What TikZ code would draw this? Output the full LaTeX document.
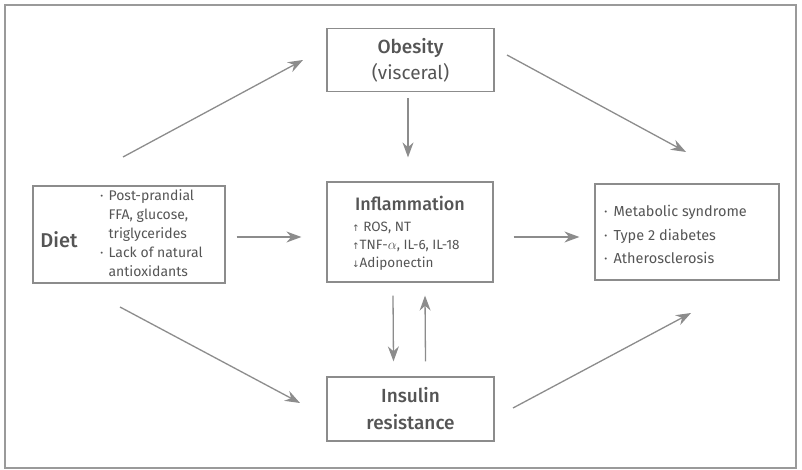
\documentclass[tikz,border=0pt]{standalone}
\usepackage{fontspec}
\setmainfont[BoldFont={Fira Sans Medium}]{Fira Sans}
\newfontfamily\arrowfont{DejaVu Sans}
\usepackage{xcolor}
\usetikzlibrary{arrows.meta,positioning}
\definecolor{framegray}{HTML}{9A9A9A}
\definecolor{boxgray}{HTML}{8C8C8C}
\definecolor{textgray}{HTML}{555555}
\tikzset{
	box/.style = {draw=boxgray,line width=1.2pt,inner sep=0pt,text=textgray},
	txt/.style = {inner sep=0pt,text=textgray,align=left},
	link/.style = {draw=boxgray,line width=1.3pt,-{Stealth[length=15pt,width=11pt]}}
}
\newcommand{\up}{{\arrowfont\fontsize{9}{9}\selectfont↑}}
\newcommand{\dn}{{\arrowfont\fontsize{9}{9}\selectfont↓}}

\begin{document}
\begin{tikzpicture}[x=1pt,y=-1pt]
		\useasboundingbox (0,0) rectangle (802,470);
		\draw[framegray,line width=1.6pt] (5,5) rectangle (796,468);
	
		% boxes
		\node[box,minimum width=167pt,minimum height=63pt,align=center,font=\bfseries\fontsize{19}{26}\selectfont] (obesity) at (410.5,60) {Obesity\\\mdseries(visceral)};
		\node[box,minimum width=166pt,minimum height=100pt] (inflam) at (410,232) {};
		\node[box,minimum width=192pt,minimum height=97pt] (diet) at (129,234.5) {};
		\node[box,minimum width=184pt,minimum height=96pt] (outcome) at (687,232) {};
		\node[box,minimum width=167pt,minimum height=64pt,align=center,font=\bfseries\fontsize{19}{27}\selectfont] (insulin) at (410.5,409) {Insulin\\resistance};
	
		% texts inside
		\node[txt,font=\bfseries\fontsize{20}{20}\selectfont] (dietlabel) at (59,240) {Diet};
		\node[txt,anchor=north west,font=\fontsize{14}{19}\selectfont] (dietlist) at (100,187) {%
			\begin{tabular}{@{}l@{\hspace{5pt}}l@{}}
				·&Post-prandial\\
				 &FFA, glucose,\\
				 &triglycerides\\
				·&Lack of natural\\
				 &antioxidants
			\end{tabular}};
		\node[txt,font=\bfseries\fontsize{18}{18}\selectfont] (inflamlabel) at (410,203) {Inflammation};
		\node[txt,anchor=north west,font=\fontsize{13.5}{18}\selectfont] (inflamlist) at (352,222) {%
			\up\ ROS, NT\\
			\up TNF-$\alpha$, IL-6, IL-18\\
			\dn Adiponectin};
		\node[txt,anchor=north west,font=\fontsize{14.5}{23.5}\selectfont] (outlist) at (604,200) {%
			\begin{tabular}{@{}l@{\hspace{6pt}}l@{}}
				·&Metabolic syndrome\\
				·&Type 2 diabetes\\
				·&Atherosclerosis
			\end{tabular}};
	
		% arrow ends
		\coordinate (dietup) at (123,157);
		\coordinate (obesin) at (303,60);
		\coordinate (obesout) at (507,55);
		\coordinate (outup) at (686,152);
		\coordinate (dietdn) at (120,307);
		\coordinate (insin) at (300,403);
		\coordinate (insout) at (513,408);
		\coordinate (outdn) at (691,313);
	
		% arrows
		\draw[link] (dietup) -- (obesin);
		\draw[link] (obesout) -- (outup);
		\draw[link] (dietdn) -- (insin);
		\draw[link] (insout) -- (outdn);
		\draw[link] ([xshift=11pt,yshift=-2.5pt]diet.east) -- ([xshift=-25pt,yshift=-5pt]inflam.west);
		\draw[link] ([xshift=20pt,yshift=-5pt]inflam.east) -- ([xshift=-15pt,yshift=-5pt]outcome.west);
		\draw[link] ([xshift=-2.5pt,yshift=-6pt]obesity.south) -- ([xshift=-2pt,yshift=24pt]inflam.north);
		\draw[link] ([xshift=-17pt,yshift=-13pt]inflam.south) -- ([xshift=-17pt,yshift=15pt]insulin.north);
		\draw[link] ([xshift=15pt,yshift=15pt]insulin.north) -- ([xshift=15pt,yshift=-13pt]inflam.south);
	\end{tikzpicture}
\end{document}
